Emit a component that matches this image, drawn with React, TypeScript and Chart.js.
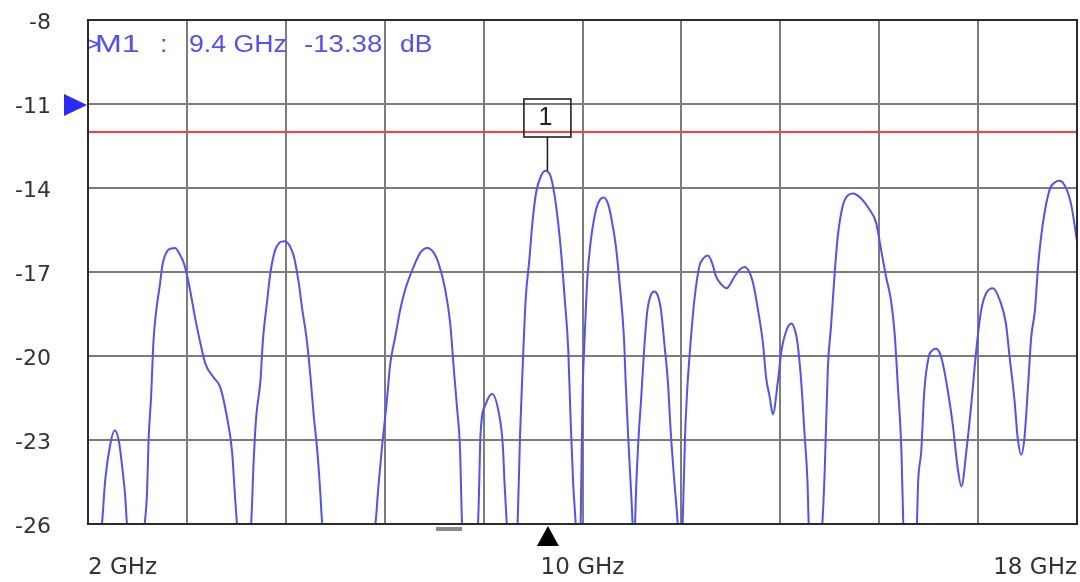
import React, { useEffect, useRef } from 'react';
import { Chart, registerables } from 'chart.js';

Chart.register(...registerables);

// ---- data ----
const freqGHz = [
  2.0, 2.12, 2.226, 2.28, 2.36, 2.43, 2.5, 2.55, 2.6, 2.63,
  2.77, 2.917, 2.955, 2.98, 3.02, 3.06, 3.105, 3.16, 3.21, 3.28, 3.35, 3.41, 3.48, 3.55, 3.63, 3.74, 3.82, 3.9, 4.03, 4.14, 4.25, 4.33, 4.38, 4.41,
  4.52, 4.64, 4.68, 4.72, 4.79, 4.83, 4.9, 4.95, 5.03, 5.1, 5.18, 5.26, 5.33, 5.41, 5.46, 5.54, 5.6, 5.65, 5.71, 5.75, 5.79,
  6.2, 6.65, 6.7, 6.76, 6.83, 6.89, 6.97, 7.05, 7.13, 7.27, 7.38, 7.49, 7.59, 7.67, 7.78, 7.86, 7.92, 7.97, 8.02, 8.05,
  8.18, 8.31, 8.33, 8.35, 8.435, 8.54, 8.65, 8.71, 8.74, 8.775,
  8.86, 8.95, 8.99, 9.03, 9.08, 9.14, 9.19, 9.25, 9.33, 9.4, 9.47, 9.51, 9.58, 9.65, 9.71, 9.77, 9.81, 9.85, 9.89,
  9.93, 9.97, 10.0, 10.04, 10.08, 10.13, 10.22, 10.29, 10.35, 10.41, 10.46, 10.54, 10.6, 10.67, 10.7, 10.74, 10.78, 10.81,
  10.83, 10.85, 10.87, 10.91, 10.95, 11.0, 11.05, 11.1, 11.16, 11.22, 11.27, 11.33, 11.38, 11.43, 11.49, 11.54,
  11.58, 11.62, 11.66, 11.7, 11.76, 11.81, 11.89, 11.96, 12.03, 12.1, 12.16, 12.25, 12.33, 12.46, 12.55, 12.62, 12.7, 12.76, 12.84, 12.92, 12.97, 13.03, 13.08,
  13.16, 13.22, 13.3, 13.38, 13.44, 13.48, 13.54, 13.59, 13.64, 13.66,
  13.77, 13.88, 13.92, 13.97, 14.02, 14.08, 14.13, 14.21, 14.3, 14.38, 14.46, 14.54, 14.64, 14.75, 14.83, 14.91, 14.99, 15.05, 15.1, 15.16, 15.19,
  15.3, 15.41, 15.43, 15.48, 15.53, 15.6, 15.66, 15.72, 15.78, 15.83, 15.91, 15.99, 16.07, 16.13, 16.21, 16.29, 16.37, 16.45, 16.53, 16.64, 16.75, 16.85, 16.91, 16.99, 17.04, 17.1,
  17.15, 17.21, 17.26, 17.32, 17.37, 17.45, 17.56, 17.64, 17.72, 17.83, 17.91, 18.0,
];

const magnitudeDb = [
  -29, -28, -26, -24.4, -23.16, -22.65, -23.04, -23.9, -24.96, -26,
  -29, -26, -24.9, -23.0, -21.48, -19.44, -18.36, -17.5, -16.68, -16.26, -16.16, -16.14, -16.35, -16.68, -17.4, -18.72, -19.56, -20.28, -20.76, -21.12, -22.2, -23.4, -25.08, -26,
  -29, -26, -23.76, -22.2, -20.88, -19.44, -18.0, -17.04, -16.2, -15.95, -15.9, -16.05, -16.44, -17.4, -18.24, -19.44, -20.76, -22.08, -23.4, -24.6, -26,
  -29.5, -26, -24.6, -23.16, -21.72, -20.28, -19.32, -18.36, -17.64, -16.8, -16.3, -16.14, -16.3, -16.68, -17.64, -18.84, -20.52, -21.84, -23.4, -26,
  -29, -26, -24.5, -22.8, -21.72, -21.36, -22.08, -23.16, -24.6, -26,
  -28.5, -26, -22.8, -20.52, -18.0, -16.56, -15.24, -14.16, -13.56, -13.38, -13.5, -13.8, -14.76, -16.2, -17.88, -19.8, -22.44, -24.6, -26,
  -28, -26, -21.5, -19.08, -17.16, -15.96, -14.76, -14.4, -14.34, -14.55, -15.0, -16.08, -17.4, -19.32, -21.0, -22.92, -24.6, -26,
  -27.5, -26, -24.6, -22.8, -21.48, -19.68, -18.36, -17.85, -17.7, -17.85, -18.36, -19.68, -20.88, -22.8, -24.6, -26,
  -28, -26, -22.8, -21.0, -19.2, -18.0, -16.8, -16.5, -16.41, -16.7, -17.16, -17.45, -17.58, -17.16, -16.9, -16.82, -17.0, -17.4, -18.36, -19.56, -20.76, -21.48, -22.08,
  -20.92, -19.8, -19.08, -18.84, -19.1, -19.56, -20.96, -22.7, -24.5, -26,
  -28.5, -26, -24.0, -20.4, -18.96, -17.04, -15.72, -14.64, -14.25, -14.2, -14.28, -14.45, -14.76, -15.24, -16.2, -17.16, -18.0, -19.2, -21.0, -23.4, -26,
  -29, -26, -24.5, -23.4, -21.24, -20.04, -19.8, -19.74, -19.9, -20.28, -21.24, -22.44, -24.0, -24.66, -23.4, -21.72, -19.8, -18.36, -17.76, -17.58, -18.0, -18.84, -20.04, -21.6, -22.92, -23.52,
  -22.92, -21.0, -19.32, -18.36, -16.8, -15.24, -14.04, -13.8, -13.74, -14.04, -14.64, -15.9,
];

const yTickValues = [-26, -23, -20, -17, -14, -11, -8];
const xGridGHz = [2, 3.6, 5.2, 6.8, 8.4, 10, 11.6, 13.2, 14.8, 16.4, 18];
const xTickLabels: Record<string, string> = { '2': '2 GHz', '10': '10 GHz', '18': '18 GHz' };
const limitLineDb = -12;
const refLevelDb = -11;
const markerName = 'M1';
const markerFreqGHz = 9.4;
const markerDb = -13.38;
const markerNumber = '1';

const overlayPlugin = {
  id: 'overlay',
  afterDatasetsDraw(chart: any) {
    const { ctx, chartArea: a, scales } = chart;
    const x = scales.x;
    const y = scales.y;
    ctx.save();

    // frame
    ctx.strokeStyle = '#2b2b2b';
    ctx.lineWidth = 2;
    ctx.strokeRect(a.left, a.top, a.right - a.left, a.bottom - a.top);

    // marker box + stem
    const mx = x.getPixelForValue(markerFreqGHz) + 2;
    const my = y.getPixelForValue(markerDb);
    const boxTop = y.getPixelForValue(refLevelDb) - 5;
    const boxH = 38;
    const boxW = 47;
    ctx.strokeStyle = '#222';
    ctx.lineWidth = 1.6;
    ctx.strokeRect(mx - boxW / 2, boxTop, boxW, boxH);
    ctx.beginPath();
    ctx.moveTo(mx, boxTop + boxH);
    ctx.lineTo(mx, my);
    ctx.stroke();
    ctx.fillStyle = '#222';
    ctx.font = '25px "Liberation Sans"';
    ctx.textAlign = 'center';
    ctx.textBaseline = 'middle';
    ctx.fillText(markerNumber, mx - 2, boxTop + boxH / 2);

    // bottom marker triangle
    ctx.fillStyle = '#000';
    ctx.beginPath();
    ctx.moveTo(mx + 0.5, a.bottom + 2);
    ctx.lineTo(mx - 10.5, a.bottom + 22);
    ctx.lineTo(mx + 11.5, a.bottom + 22);
    ctx.closePath();
    ctx.fill();

    // gray dash under axis
    ctx.fillStyle = '#8a8a8a';
    ctx.fillRect(436, a.bottom + 3, 26, 4);

    // reference level triangle
    const ry = y.getPixelForValue(refLevelDb);
    ctx.fillStyle = '#2a2aff';
    ctx.beginPath();
    ctx.moveTo(a.left - 1, ry + 1);
    ctx.lineTo(a.left - 24, ry - 10);
    ctx.lineTo(a.left - 24, ry + 12);
    ctx.closePath();
    ctx.fill();

    // marker readout
    ctx.save();
    ctx.beginPath();
    ctx.rect(a.left + 1, a.top, a.right - a.left, a.bottom - a.top);
    ctx.clip();
    ctx.fillStyle = 'rgb(80,80,255)';
    ctx.font = '23px "Liberation Sans"';
    ctx.textAlign = 'left';
    ctx.textBaseline = 'middle';
    const parts: [string, number, number][] = [
      ['>', 84, 1.15],
      [markerName, 95, 1.4],
      [':', 160, 1.15],
      [markerFreqGHz.toFixed(1) + ' GHz', 189, 1.16],
      [markerDb.toFixed(2), 304, 1.2],
      ['dB', 400, 1.15],
    ];
    const ty = 46;
    for (const [t, px, sx] of parts) {
      ctx.save();
      ctx.translate(px, ty);
      ctx.scale(sx, 1);
      ctx.fillText(t, 0, 0);
      ctx.restore();
    }
    ctx.restore();

    ctx.restore();
  },
};

export default function App() {
  const ref = useRef<HTMLCanvasElement | null>(null);

  useEffect(() => {
    if (!ref.current) return;
    const traceData = freqGHz.map((f, i) => ({ x: f, y: magnitudeDb[i] }));
    const limitData = [
      { x: xGridGHz[0], y: limitLineDb },
      { x: xGridGHz[xGridGHz.length - 1], y: limitLineDb },
    ];
    const chart = new Chart(ref.current, {
      type: 'line',
      data: {
        datasets: [
          {
            data: limitData,
            borderColor: 'rgb(255,60,60)',
            borderWidth: 2,
            pointRadius: 0,
          },
          {
            data: traceData,
            borderColor: 'rgb(80,80,255)',
            borderWidth: 2,
            pointRadius: 0,
            cubicInterpolationMode: 'monotone',
          },
        ],
      },
      options: {
        responsive: false,
        animation: false,
        events: [],
        layout: { padding: { top: 20, right: 3, left: 0, bottom: 0 } },
        plugins: { legend: { display: false }, tooltip: { enabled: false } },
        scales: {
          x: {
            type: 'linear',
            min: 2,
            max: 18,
            afterBuildTicks: (s: any) => {
              s.ticks = xGridGHz.map((v) => ({ value: v }));
            },
            afterFit: (s: any) => {
              s.height = 58;
              s.paddingLeft = 0;
              s.paddingRight = 0;
              s.paddingTop = 0;
              s.paddingBottom = 0;
            },
            grid: { color: '#7c7c7c', lineWidth: 2, drawTicks: false },
            border: { display: false },
            ticks: {
              autoSkip: false,
              maxRotation: 0,
              align: 'inner',
              padding: 30,
              color: '#333',
              font: { family: '"DejaVu Sans"', size: 23 },
              callback: (v: any) => xTickLabels[String(Math.round(Number(v) * 10) / 10)] || '',
            },
          },
          y: {
            type: 'linear',
            min: -26,
            max: -8,
            afterBuildTicks: (s: any) => {
              s.ticks = yTickValues.map((v) => ({ value: v }));
            },
            afterFit: (s: any) => {
              s.width = 88;
              s.paddingLeft = 0;
              s.paddingRight = 0;
              s.paddingTop = 0;
              s.paddingBottom = 0;
            },
            grid: { color: '#7c7c7c', lineWidth: 2, drawTicks: false },
            border: { display: false },
            ticks: {
              padding: 37,
              labelOffset: 3,
              color: '#333',
              font: { family: '"DejaVu Sans"', size: 22 },
              callback: (v: any) => String(v),
            },
          },
        },
      },
      plugins: [overlayPlugin],
    });
    return () => chart.destroy();
  }, []);

  return (
    <div style={{ position: 'absolute', left: 0, top: 0, width: 1080, height: 582, background: '#fff' }}>
      <canvas ref={ref} width={1080} height={582} style={{ display: 'block' }} />
    </div>
  );
}
